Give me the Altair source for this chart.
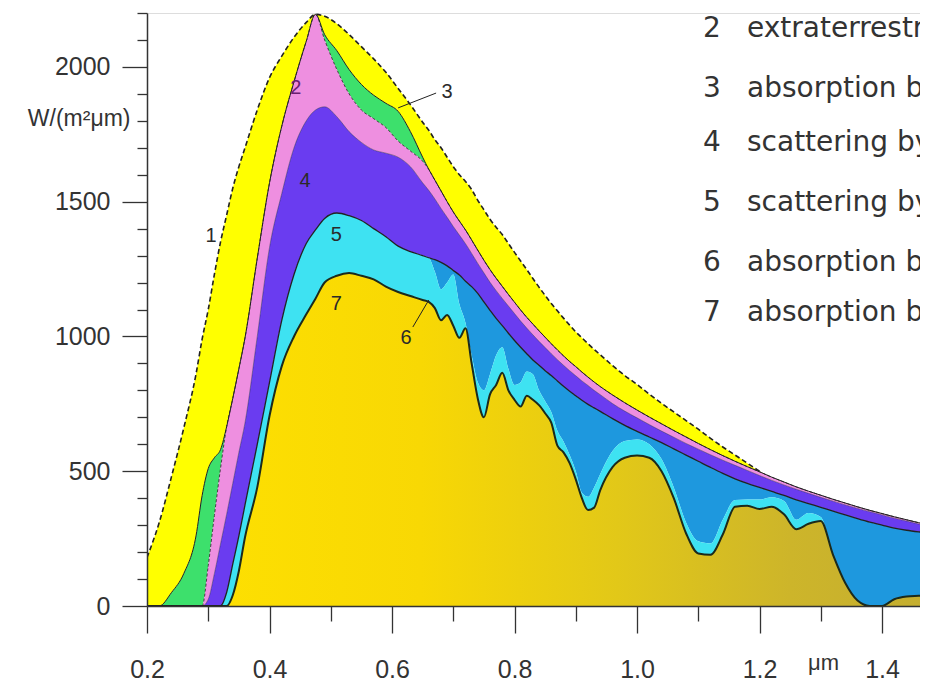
import altair as alt
import pandas as pd

# ---------------- data ----------------
WAVELENGTH = [
    0.20, 0.22, 0.24, 0.26, 0.28,
    0.29, 0.30, 0.31, 0.32, 0.33,
    0.34, 0.35, 0.36, 0.38, 0.40,
    0.42, 0.44, 0.46, 0.475, 0.49,
    0.51, 0.53, 0.55, 0.57, 0.59,
    0.61, 0.63, 0.65, 0.66, 0.67,
    0.68, 0.69, 0.70, 0.71, 0.72,
    0.73, 0.74, 0.75, 0.76, 0.77,
    0.78, 0.79, 0.80, 0.81, 0.82,
    0.83, 0.84, 0.85, 0.86, 0.87,
    0.88, 0.89, 0.90, 0.91, 0.92,
    0.93, 0.94, 0.96, 0.98, 1.00,
    1.02, 1.04, 1.06, 1.08, 1.10,
    1.12, 1.14, 1.16, 1.18, 1.20,
    1.22, 1.24, 1.26, 1.28, 1.30,
    1.32, 1.34, 1.36, 1.38, 1.40,
    1.42, 1.44, 1.46, 1.48,
]

# 1 black body (dashed)
CURVE1 = [
    180, 310, 480, 660, 860,
    990, 1100, 1230, 1350, 1450,
    1550, 1630, 1700, 1840, 1960,
    2040, 2110, 2165, 2195, 2188,
    2160, 2120, 2075, 2030, 1980,
    1920, 1860, 1795, 1765, 1730,
    1700, 1665, 1630, 1600, 1575,
    1545, 1505, 1470, 1435, 1405,
    1378, 1345, 1312, 1280, 1248,
    1215, 1183, 1152, 1122, 1095,
    1068, 1042, 1017, 995, 973,
    952, 932, 892, 855, 822,
    786, 752, 720, 688, 656,
    622, 590, 560, 530, 500,
    478, 460, 442, 426, 411,
    396, 382, 368, 355, 343,
    331, 320, 309, 299,
]

# 2 extraterrestrial
CURVE2 = [
    0, 0, 50, 120, 260,
    410, 510, 550, 580, 665,
    770, 880, 995, 1290, 1570,
    1780, 1945, 2095, 2195, 2120,
    2060, 1990, 1935, 1895, 1865,
    1835, 1760, 1665, 1620, 1580,
    1540, 1500, 1462, 1428, 1395,
    1358, 1320, 1283, 1248, 1216,
    1186, 1156, 1127, 1098, 1071,
    1046, 1021, 997, 973, 950,
    928, 907, 888, 868, 849,
    831, 814, 783, 754, 727,
    701, 676, 651, 627, 603,
    580, 558, 537, 517, 498,
    478, 460, 442, 426, 411,
    396, 382, 368, 355, 343,
    331, 320, 309, 299,
]

# 3 after ozone absorption
CURVE3 = [
    0, 0, 0, 0, 0,
    0, 150, 335, 510, 665,
    770, 880, 995, 1290, 1570,
    1780, 1945, 2095, 2195, 2100,
    1990, 1900, 1840, 1808, 1775,
    1725, 1688, 1650, 1620, 1580,
    1540, 1500, 1462, 1428, 1395,
    1358, 1320, 1283, 1248, 1216,
    1186, 1156, 1127, 1098, 1071,
    1046, 1021, 997, 973, 950,
    928, 907, 888, 868, 849,
    831, 814, 783, 754, 727,
    701, 676, 651, 627, 603,
    580, 558, 537, 517, 498,
    478, 460, 442, 426, 411,
    396, 382, 368, 355, 343,
    331, 320, 309, 299,
]

# 4 after scattering by molecules
CURVE4 = [
    0, 0, 0, 0, 0,
    0, 25, 120, 230, 340,
    455, 570, 680, 1000, 1330,
    1530, 1700, 1800, 1840, 1852,
    1815, 1760, 1720, 1692, 1680,
    1665, 1630, 1570, 1542, 1510,
    1475, 1442, 1408, 1376, 1344,
    1308, 1271, 1236, 1201, 1170,
    1141, 1113, 1085, 1057, 1031,
    1006, 982, 959, 936, 914,
    893, 873, 854, 835, 818,
    800, 784, 751, 723, 698,
    673, 649, 626, 603, 582,
    561, 541, 522, 503, 484,
    466, 449, 433, 418, 403,
    389, 375, 362, 350, 338,
    326, 315, 304, 294,
]

# 5 after scattering by aerosols
CURVE5 = [
    0, 0, 0, 0, 0,
    0, 0, 0, 0, 50,
    155, 260, 375, 600, 830,
    1060, 1230, 1345, 1395, 1438,
    1458, 1448, 1430, 1400, 1370,
    1335, 1315, 1300, 1292, 1285,
    1275, 1262, 1245, 1228, 1205,
    1185, 1160, 1128, 1097, 1067,
    1040, 1012, 985, 960, 936,
    913, 893, 873, 855, 835,
    815, 797, 780, 763, 748,
    735, 722, 695, 670, 648,
    627, 606, 583, 560, 537,
    514, 492, 472, 455, 440,
    425, 410, 394, 380, 366,
    352, 338, 324, 311, 300,
    289, 281, 275, 270,
]

# 6 after absorption by water vapour
CURVE6 = [
    0, 0, 0, 0, 0,
    0, 0, 0, 0, 50,
    155, 260, 375, 600, 830,
    1060, 1230, 1345, 1395, 1438,
    1458, 1448, 1430, 1400, 1370,
    1335, 1315, 1300, 1292, 1240,
    1175, 1200, 1230, 1120, 1050,
    930, 830, 800, 860, 930,
    960, 880, 820, 830, 870,
    860, 800, 760, 720, 650,
    610, 560, 500, 420, 405,
    440, 490, 575, 612, 618,
    600, 545, 440, 310, 240,
    232, 320, 393, 395, 395,
    403, 390, 320, 345, 330,
    190, 85, 20, 0, 0,
    25, 35, 38, 41,
]

# 7 radiation at the ground
CURVE7 = [
    0, 0, 0, 0, 0,
    0, 0, 0, 0, 0,
    40, 130, 255, 440, 705,
    890, 1000, 1082, 1140, 1200,
    1225, 1235, 1225, 1212, 1185,
    1165, 1150, 1135, 1128, 1105,
    1060, 1080, 1040, 995, 1030,
    900, 770, 700, 785, 820,
    865, 800, 765, 740, 780,
    765, 745, 715, 680, 595,
    570, 530, 470, 400, 356,
    365, 430, 515, 550, 558,
    550, 500, 400, 270, 195,
    190, 265, 368, 372, 360,
    368, 340, 285, 305, 315,
    190, 85, 20, 0, 0,
    25, 35, 38, 41,
]

X_TICKS = [0.2, 0.3, 0.4, 0.5, 0.6, 0.7, 0.8, 0.9, 1.0, 1.1, 1.2, 1.3, 1.4]
Y_TICKS = [0, 100, 200, 300, 400, 500, 600, 700, 800, 900, 1000, 1100,
           1200, 1300, 1400, 1500, 1600, 1700, 1800, 1900, 2000, 2100, 2200]

CURVE_LABELS = ["1", "2", "3", "4", "5", "6", "7"]
CURVE_LABEL_X = [0.3045, 0.443, 0.690, 0.458, 0.509, 0.623, 0.509]
CURVE_LABEL_Y = [1373, 1922, 1907, 1577, 1377, 994, 1121]

LEADER_X = [0.610, 0.634]
LEADER_Y = [1848, 1035]
LEADER_X2 = [0.672, 0.660]
LEADER_Y2 = [1903, 1135]

LEGEND_NUM = ["2", "3", "4", "5", "6", "7"]
LEGEND_TEXT = [
    "extraterrestrial radiation",
    "absorption by ozone",
    "scattering by molecules",
    "scattering by aerosols",
    "absorption by water vapour",
    "absorption by other gases",
]

# ---------------- layout / style ----------------
W, H = 773, 593
LEGEND_ROW_Y = [16, 76, 130, 190, 250, 300]
AX_FONT = "Liberation Sans"
INK = "#333333"

df = pd.DataFrame({
    "x": WAVELENGTH, "c1": CURVE1, "c2": CURVE2, "c3": CURVE3, "c4": CURVE4,
    "c5": CURVE5, "c6": CURVE6, "c7": CURVE7,
})
labels_df = pd.DataFrame({"x": CURVE_LABEL_X, "y": CURVE_LABEL_Y, "t": CURVE_LABELS})
leader_df = pd.DataFrame({"x": LEADER_X, "y": LEADER_Y, "x2": LEADER_X2, "y2": LEADER_Y2})
legend_df = pd.DataFrame({"num": LEGEND_NUM, "txt": LEGEND_TEXT, "py": LEGEND_ROW_Y})

xs = alt.Scale(domain=[0.2, 1.462], nice=False, zero=False)
ys = alt.Scale(domain=[0, 2200], nice=False, zero=False)

xaxis = alt.Axis(
    values=X_TICKS, title="μm", titleX=676, titleY=63, titleAlign="center",
    titleBaseline="alphabetic", titleFont=AX_FONT, titleFontSize=22,
    titleFontWeight="normal", titleColor=INK,
    labelExpr="round(datum.value*10) % 2 === 0 ? format(datum.value, '.1f') : ''",
    labelFont=AX_FONT, labelFontSize=25, labelColor=INK, labelBaseline="alphabetic",
    labelPadding=44, labelOverlap=False, labelFlush=False,
    tickSize={"condition": {"test": "round(datum.value*10) % 2 === 0", "value": 27}, "value": 15},
    tickColor=INK, tickWidth=1.3, domainColor=INK, domainWidth=1.5, grid=False, zindex=1,
)
yaxis = alt.Axis(
    values=Y_TICKS, title="W/(m²μm)", titleAngle=0, titleX=-17, titleY=105,
    titleAlign="right", titleBaseline="middle", titleFont=AX_FONT, titleFontSize=23,
    titleFontWeight="normal", titleColor=INK,
    labelExpr="datum.value % 500 === 0 ? format(datum.value, 'd') : ''",
    labelFont=AX_FONT, labelFontSize=25, labelColor=INK, labelPadding=12,
    labelOverlap=False, labelFlush=False,
    tickSize={"condition": {"test": "datum.value % 500 === 0", "value": 25}, "value": 10},
    tickColor=INK, tickWidth=1.3, domainColor=INK, domainWidth=1.5, grid=False, zindex=1,
)

X = alt.X("x:Q", scale=xs, axis=xaxis)


def Y(col):
    return alt.Y(f"{col}:Q", scale=ys, axis=yaxis)


base = alt.Chart(df)


def band(low, high, color):
    return base.mark_area(color=color, interpolate="monotone", clip=True).encode(
        x=X, y=Y(low), y2=f"{high}:Q")


gold = base.mark_area(
    interpolate="monotone", clip=True,
    color=alt.Gradient(
        gradient="linear", x1=0, x2=1, y1=0, y2=0,
        stops=[alt.GradientStop(color="#FFE200", offset=0),
               alt.GradientStop(color="#F8D804", offset=0.35),
               alt.GradientStop(color="#E2C818", offset=0.6),
               alt.GradientStop(color="#CDB52A", offset=0.82),
               alt.GradientStop(color="#C4AE30", offset=1)],
    ),
).encode(x=X, y=Y("c7"))

areas = [
    band("c2", "c1", "#FFFF00"),
    band("c3", "c2", "#3DE06C"),
    band("c4", "c3", "#EE8FE0"),
    band("c5", "c4", "#6A3CF0"),
    band("c6", "c5", "#1E98DE"),
    band("c7", "c6", "#3EE2F2"),
    gold,
]


def curve(col, width, dash=None, color="#222222", opacity=1.0):
    kw = dict(interpolate="monotone", clip=True, color=color, strokeWidth=width, opacity=opacity)
    if dash:
        kw["strokeDash"] = dash
    return base.mark_line(**kw).encode(x=X, y=Y(col))


lines = [
    curve("c7", 2.0, color="#1c2a1c"),
    curve("c5", 1.3),
    curve("c4", 0.8, opacity=0.5),
    curve("c3", 1.0, dash=[3, 2], opacity=0.8),
    curve("c2", 1.0),
    base.mark_line(interpolate="monotone", clip=True, color="#222222", strokeWidth=1.6,
                   strokeDash=[5, 3]).encode(x=X, y=Y("c1")).transform_filter("datum.x <= 1.201"),
]

curve_labels = alt.Chart(labels_df).mark_text(
    font=AX_FONT, fontSize=20, align="center", baseline="middle"
).encode(
    x=alt.X("x:Q", scale=xs, axis=xaxis), y=alt.Y("y:Q", scale=ys, axis=yaxis), text="t:N",
    color=alt.condition(alt.datum.t == "2", alt.value("#6a2070"), alt.value("#2a2a2a")),
)

leaders = alt.Chart(leader_df).mark_rule(color="#222222", strokeWidth=1).encode(
    x=alt.X("x:Q", scale=xs, axis=xaxis), y=alt.Y("y:Q", scale=ys, axis=yaxis),
    x2="x2:Q", y2="y2:Q")

legend_num = alt.Chart(legend_df).mark_text(
    font="DejaVu Sans", fontSize=28, color=INK, align="left", baseline="middle", clip=True
).encode(x=alt.value(556), y=alt.Y("py:Q", scale=None, axis=None), text="num:N")

legend_txt = alt.Chart(legend_df).mark_text(
    font="DejaVu Sans", fontSize=28, color=INK, align="left", baseline="middle", clip=True
).encode(x=alt.value(600), y=alt.Y("py:Q", scale=None, axis=None), text="txt:N")

chart = alt.layer(*areas, *lines, leaders, curve_labels, legend_num, legend_txt).properties(
    width=W, height=H,
    padding={"left": 139, "top": 5, "right": 0, "bottom": 73},
    autosize=alt.AutoSizeParams(type="none"),
).configure_view(stroke=None).configure(background="white")

chart.save("out.html", embed_options={"renderer": "svg", "actions": False})
